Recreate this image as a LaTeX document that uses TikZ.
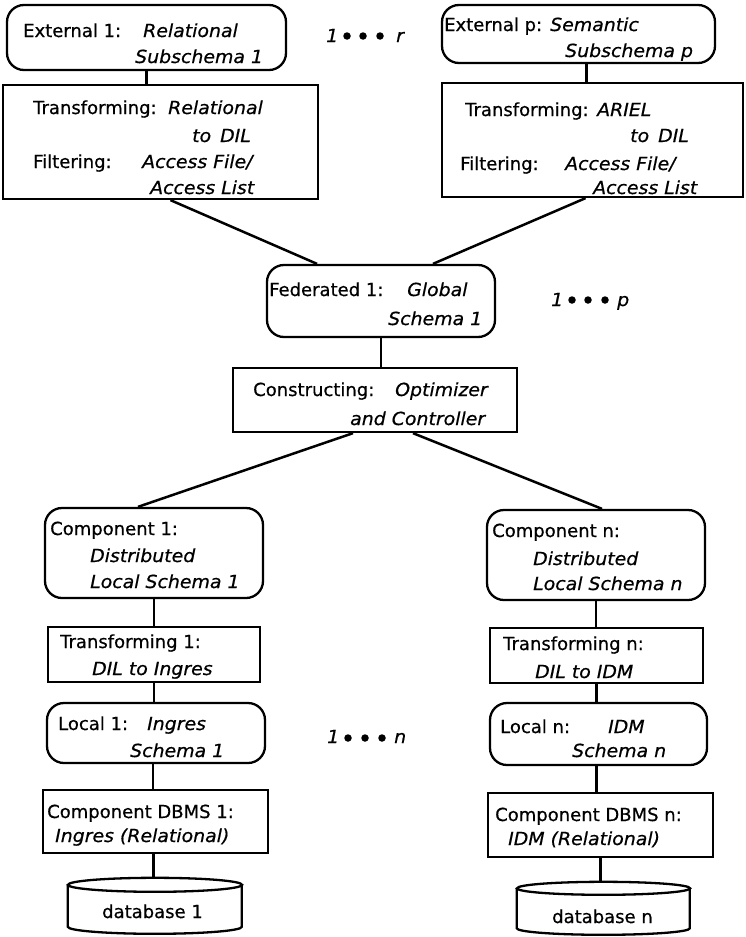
\documentclass[tikz,border=0pt]{standalone}
\usepackage{fontspec}
\setmainfont[FakeBold=0.6]{DejaVu Sans}
\newfontfamily\itfam[FakeStretch=1.05,FakeBold=0.6]{DejaVu Sans}
\usetikzlibrary{fit}
\tikzset{
  sq/.style={draw, line width=2.3pt, inner sep=0pt},
  rnd/.style={draw, line width=2.3pt, rounded corners=17pt, inner sep=0pt},
  conn/.style={line width=2.5pt},
  cyl/.style={line width=2.3pt},
  tx/.style={anchor=base west, inner sep=0pt, font=\fontsize{18}{21}\selectfont},
  it/.style={anchor=base west, inner sep=0pt, font=\fontsize{18}{21}\itfam\itshape},
  bullet/.style={circle, fill, inner sep=0pt, minimum size=7.5pt},
}
\newcommand\mkbox[6]{\path (#3,#4) coordinate (#2-a) (#5,#6) coordinate (#2-b);
  \node[#1, fit=(#2-a)(#2-b)] (#2) {};}
\begin{document}
\begin{tikzpicture}[x=1pt,y=-1pt]
\useasboundingbox (0,0) rectangle (745,937);
% ---------- boxes ----------
\mkbox{rnd}{ext1}{7}{5}{286}{70}
\mkbox{sq}{tr1}{3}{85}{318}{199}
\mkbox{rnd}{extp}{442}{5}{715}{63}
\mkbox{sq}{trp}{442}{83}{743}{197}
\mkbox{rnd}{fed}{267}{265}{495}{337}
\mkbox{sq}{con}{233}{368}{517}{432}
\mkbox{rnd}{cmp1}{45}{508}{263}{598}
\mkbox{sq}{tf1}{48}{627}{260}{682}
\mkbox{rnd}{loc1}{47}{703}{265}{763}
\mkbox{sq}{dbms1}{43}{790}{268}{853}
\mkbox{rnd}{cmpn}{487}{510}{705}{600}
\mkbox{sq}{tfn}{490}{628}{703}{683}
\mkbox{rnd}{locn}{490}{703}{707}{765}
\mkbox{sq}{dbmsn}{488}{793}{713}{857}
% cylinders
\path (68,878) coordinate (db1-a) (242,934) coordinate (db1-b);
\node[inner sep=0pt, fit=(db1-a)(db1-b)] (db1) {};
\draw[cyl] (db1.north west) ++(0,7) -- ++(0,42) arc (180:0:87 and 7) -- ++(0,-42);
\draw[cyl] (db1.north) ++(0,7) ellipse (87 and 7);
\path (517,882) coordinate (dbn-a) (690,935) coordinate (dbn-b);
\node[inner sep=0pt, fit=(dbn-a)(dbn-b)] (dbn) {};
\draw[cyl] (dbn.north west) ++(0,6.5) -- ++(0,40) arc (180:0:86.5 and 6.5) -- ++(0,-40);
\draw[cyl] (dbn.north) ++(0,6.5) ellipse (86.5 and 6.5);
% ---------- connectors ----------
\draw[conn] (ext1.south) -- (ext1.south |- tr1.north);
\draw[conn] ([xshift=8pt]extp.south) -- ([xshift=8pt]extp.south |- trp.north);
\draw[conn] ([xshift=10pt]tr1.south) -- ([xshift=-64pt]fed.north);
\draw[conn] ([xshift=-7pt]trp.south) -- ([xshift=52pt]fed.north);
\draw[conn] (fed.south) -- (fed.south |- con.north);
\draw[conn] ([xshift=-22pt]con.south) -- ([xshift=-16pt]cmp1.north);
\draw[conn] ([xshift=38pt]con.south) -- ([xshift=6pt]cmpn.north);
\draw[conn] (cmp1.south) -- (cmp1.south |- tf1.north);
\draw[conn] (tf1.south) -- (tf1.south |- loc1.north);
\draw[conn] ([xshift=-3pt]loc1.south) -- ([xshift=-3pt]loc1.south |- dbms1.north);
\draw[conn] ([xshift=-2pt]dbms1.south) -- ([xshift=-2pt]dbms1.south |- db1.north);
\draw[conn] (cmpn.south) -- (cmpn.south |- tfn.north);
\draw[conn] (tfn.south) -- (tfn.south |- locn.north);
\draw[conn] ([xshift=-2pt]locn.south) -- ([xshift=-2pt]locn.south |- dbmsn.north);
\draw[conn] (dbmsn.south) -- (dbmsn.south |- dbn.north);
% ---------- texts ----------
\node[tx] (t1) at (23,37) {External 1:};
\node[it] (t2) at (143,37) {Relational};
\node[it] (t3) at (135,63) {Subschema 1};
\node[tx] (t4) at (33,114) {Transforming:};
\node[it] (t5) at (168,114) {Relational};
\node[it] (t6) at (192,142) {to\, DIL};
\node[tx] (t7) at (33,168) {Filtering:};
\node[it] (t8) at (142,168) {Access File/};
\node[it] (t9) at (150,194) {Access List};
\node[tx] (t10) at (444,31) {External p:};
\node[it] (t11) at (550,31) {Semantic};
\node[it] (t12) at (565,57) {Subschema p};
\node[tx] (t13) at (465,116) {Transforming:};
\node[it] (t14) at (597,116) {ARIEL};
\node[it] (t15) at (630,142) {to\, DIL};
\node[tx] (t16) at (460,170) {Filtering:};
\node[it] (t17) at (565,170) {Access File/};
\node[it] (t18) at (593,194) {Access List};
\node[tx] (t19) at (269,296) {Federated 1:};
\node[it] (t20) at (407,296) {Global};
\node[it] (t21) at (388,325) {Schema 1};
\node[tx] (t22) at (253,396) {Constructing:};
\node[it] (t23) at (395,396) {Optimizer};
\node[it] (t24) at (350,425) {and Controller};
\node[tx] (t25) at (50,535) {Component 1:};
\node[it] (t26) at (90,562) {Distributed};
\node[it] (t27) at (90,588) {Local Schema 1};
\node[tx] (t28) at (60,648) {Transforming 1:};
\node[it] (t29) at (92,675) {DIL to Ingres};
\node[tx] (t30) at (58,730) {Local 1:};
\node[it] (t31) at (147,730) {Ingres};
\node[it] (t32) at (130,757) {Schema 1};
\node[tx] (t33) at (47,818) {Component DBMS 1:};
\node[it] (t34) at (55,842) {Ingres (Relational)};
\node[tx] (t35) at (102,918) {database 1};
\node[tx] (t36) at (492,537) {Component n:};
\node[it] (t37) at (533,565) {Distributed};
\node[it] (t38) at (533,590) {Local Schema n};
\node[tx] (t39) at (503,650) {Transforming n:};
\node[it] (t40) at (535,678) {DIL to IDM};
\node[tx] (t41) at (500,733) {Local n:};
\node[it] (t42) at (608,733) {IDM};
\node[it] (t43) at (572,757) {Schema n};
\node[tx] (t44) at (495,821) {Component DBMS n:};
\node[it] (t45) at (508,845) {IDM (Relational)};
\node[tx] (t46) at (552,923) {database n};
% ---------- 1 ... r / p / n ----------
\node[it] (r0) at (326,42) {1};
\node[bullet] (r1) at (347,36) {};
\node[bullet] (r2) at (363,36) {};
\node[bullet] (r3) at (380,36) {};
\node[it] (r4) at (396,42) {r};
\node[it] (p0) at (551,306) {1};
\node[bullet] (p1) at (572,300) {};
\node[bullet] (p2) at (588,300) {};
\node[bullet] (p3) at (605,300) {};
\node[it] (p4) at (617,306) {p};
\node[it] (n0) at (327,743) {1};
\node[bullet] (n1) at (348,738) {};
\node[bullet] (n2) at (365,738) {};
\node[bullet] (n3) at (382,738) {};
\node[it] (n4) at (394,743) {n};
\end{tikzpicture}
\end{document}
